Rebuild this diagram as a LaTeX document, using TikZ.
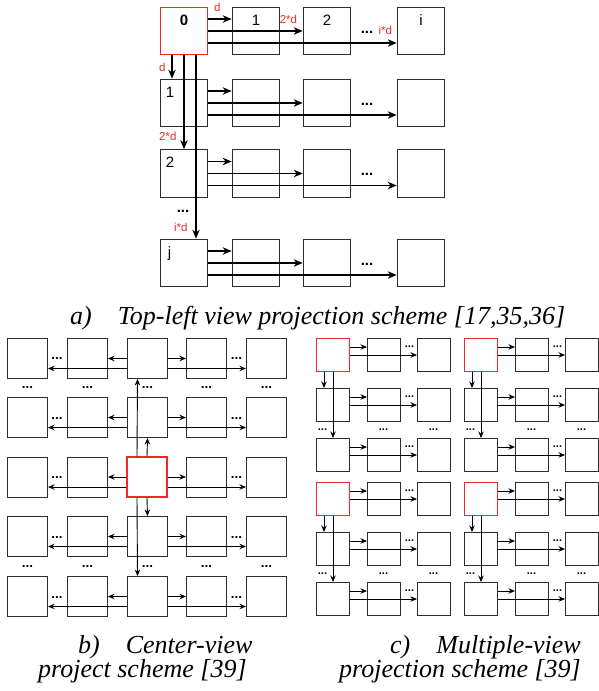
\documentclass[tikz,border=0pt]{standalone}
\usepackage{fontspec}
\setmainfont{Liberation Serif}
\setsansfont{Liberation Sans}
\usetikzlibrary{arrows.meta}

\definecolor{viewred}{RGB}{240,40,40}
\definecolor{framegray}{RGB}{45,45,45}

\begin{document}
\begin{tikzpicture}[
    x = 1pt, y = -1pt,
    view/.style = {draw = framegray,
      line width = 1.2pt,
      minimum size = {47.5pt},
      inner sep = 0},
    cview/.style = {view, line width = 1pt, minimum size = {40pt}},
    mview/.style = {view, line width = 1pt, minimum size = {33pt}},
    refview/.style = {draw = viewred},
    link/.style = {->, >={Stealth[length = 9pt, width = 7.5pt]},
      line width = 1.1pt},
    thinlink/.style = {->, >={Stealth[length = 6.5pt, width = 5.5pt]},
      line width = 0.9pt},
    numlbl/.style = {font = \sffamily\fontsize{15}{15}\selectfont,
      inner sep = 0, anchor = north},
    distlbl/.style = {text = viewred,
      font = \sffamily\fontsize{11.5}{12}\selectfont, inner sep = 0},
    ellip/.style = {font = \sffamily\bfseries\fontsize{15}{15}\selectfont,
      inner sep = 0, anchor = base},
    cellip/.style = {ellip, font = \sffamily\bfseries\fontsize{13.5}{14}\selectfont},
    mellip/.style = {ellip, font = \sffamily\bfseries\fontsize{11}{11}\selectfont},
    caption/.style = {font = \itshape\fontsize{26}{24}\selectfont,
      inner sep = 0, anchor = base west},
    ]

    \useasboundingbox (0, 0) rectangle (598, 691);

    % a) top-left view
    \node [view, refview] (t00) at (184, 31) {};
    \foreach \row/\y in {1/103, 2/173.5, 3/263}
    \node [view] (t\row0) at (184, \y) {};
    \foreach \col/\x in {1/256, 2/327, 3/421}
    \foreach \row/\y in {0/31, 1/103, 2/173.5, 3/263}
    \node [view] (t\row\col) at (\x, \y) {};

    \node [numlbl, font = \sffamily\bfseries\fontsize{15}{15}\selectfont]
    (n0) at ([yshift = -8pt] t00.north) {0};
    \node [numlbl] (n1) at ([yshift = -8pt] t01.north) {1};
    \node [numlbl] (n2) at ([yshift = -8pt] t02.north) {2};
    \node [numlbl] (ni) at ([yshift = -8pt] t03.north) {i};
    \node [numlbl, anchor = north west] (m1)
    at ([xshift = 6pt, yshift = -8pt] t10.north west) {1};
    \node [numlbl, anchor = north west] (m2)
    at ([xshift = 6pt, yshift = -8pt] t20.north west) {2};
    \node [numlbl, anchor = north west] (mj)
    at ([xshift = 8pt, yshift = -8pt] t30.north west) {j};

    \draw [link] ([yshift = 12pt] t00.east) to node
    [distlbl, pos = 0.38, anchor = south, yshift = 7pt] {d}
    ([yshift = 12pt] t01.west);
    \draw [link] (t00.east) to node
    [distlbl, pos = 1, anchor = south east, xshift = -5pt, yshift = 7pt] {2*d}
    (t02.west);
    \draw [link] ([yshift = -12pt] t00.east) to node
    [distlbl, pos = 1, anchor = south east, xshift = -4pt, yshift = 8pt] {i*d}
    ([yshift = -12pt] t03.west);

    \foreach \row in {1, 2, 3} {
      \draw [link] ([yshift = 12pt] t\row0.east) -- ([yshift = 12pt] t\row1.west);
      \draw [link] (t\row0.east) -- (t\row2.west);
      \draw [link] ([yshift = -12pt] t\row0.east) -- ([yshift = -12pt] t\row3.west);
    }

    \draw [link] ([xshift = -12pt] t00.south) to node
    [distlbl, anchor = east, xshift = -6pt] {d}
    ([xshift = -12pt] t10.north);
    \draw [link] (t00.south) to node
    [distlbl, pos = 1, anchor = south east, xshift = -7pt, yshift = 8pt] {2*d}
    (t20.north);
    \draw [link] ([xshift = 12pt] t00.south) to node
    [distlbl, pos = 1, anchor = south east, xshift = -8pt, yshift = 6pt] {i*d}
    ([xshift = 12pt] t30.north);

    \foreach \row/\y in {0/33, 1/105, 2/175.5, 3/265}
    \node [ellip] (dt\row) at (367, \y) {...};
    \node [ellip] (dtv) at (183, 212) {...};

    \node [caption] (capa) at (70, 324)
    {a)\quad Top-left view projection scheme [17,35,36]};

    % b) center view
    \foreach \col/\x in {0/27.5, 1/87.5, 3/206.5, 4/266.5}
    \foreach \row/\y in {0/358.5, 1/417.5, 2/477, 3/536.5, 4/596.5}
    \node [cview] (cv\row\col) at (\x, \y) {};
    \foreach \row/\y in {0/358.5, 1/417.5, 3/536.5, 4/596.5}
    \node [cview] (cv\row2) at (147.5, \y) {};

    \foreach \row in {0, 1, 3, 4} {
      \draw [thinlink] (cv\row2.west) -- (cv\row1.east);
      \draw [thinlink] ([yshift = -10pt] cv\row2.west) -- ([yshift = -10pt] cv\row0.east);
      \draw [thinlink] (cv\row2.east) -- (cv\row3.west);
      \draw [thinlink] ([yshift = -10pt] cv\row2.east) -- ([yshift = -10pt] cv\row4.west);
    }

    \node [cview, refview, line width = 1.4pt] (cv22) at (147, 477) {};
    \draw [thinlink] (cv22.west) -- (cv21.east);
    \draw [thinlink] ([yshift = -10pt] cv22.west) -- ([yshift = -10pt] cv20.east);
    \draw [thinlink] (cv22.east) -- (cv23.west);
    \draw [thinlink] ([yshift = -10pt] cv22.east) -- ([yshift = -10pt] cv24.west);
    \draw [thinlink] (cv22.north) -- (cv12.south);
    \draw [thinlink] ([xshift = -10pt] cv22.north) -- ([xshift = -10pt] cv02.south);
    \draw [thinlink] (cv22.south) -- (cv32.north);
    \draw [thinlink] ([xshift = -10pt] cv22.south) -- ([xshift = -10pt] cv42.north);

    \foreach \row/\y in {0/359.5, 1/419, 2/478.5, 3/538, 4/598} {
      \node [cellip] (cdl\row) at (57, \y) {...};
      \node [cellip] (cdr\row) at (236.5, \y) {...};
    }
    \foreach \col/\x in {0/27.5, 1/87.5, 2/147.5, 3/206.5, 4/266.5} {
      \node [cellip] (cdt\col) at (\x, 388) {...};
      \node [cellip] (cdb\col) at (\x, 567) {...};
    }

    \node [caption] (capb1) at (78, 653) {b)\quad Center-view};
    \node [caption] (capb2) at (38, 677) {project scheme [39]};

    % c) multiple views
    \foreach \g/\gx/\gy in {0/333/355, 1/481/355, 2/333/499, 3/481/499} {
      \foreach \col/\dx in {0/0, 1/51, 2/101}
      \foreach \row in {0, 1, 2} {
        \ifnum\row\col=0
          \node [mview, refview] (mv\g\row\col) at (\gx + \dx, \gy + 50*\row) {};
        \else
          \node [mview] (mv\g\row\col) at (\gx + \dx, \gy + 50*\row) {};
        \fi
      }
      \foreach \row in {0, 1, 2} {
        \draw [thinlink] ([yshift = 8pt] mv\g\row0.east) -- ([yshift = 8pt] mv\g\row1.west);
        \draw [thinlink] (mv\g\row0.east) -- (mv\g\row2.west);
        \node [mellip] (md\g\row) at (\gx + 76.5, \gy + 50*\row - 7.5) {...};
      }
      \draw [thinlink] ([xshift = -9pt] mv\g00.south) -- ([xshift = -9pt] mv\g10.north);
      \draw [thinlink] (mv\g00.south) -- (mv\g20.north);
      \node [mellip] (mda\g) at (\gx - 10.5, \gy + 75.5) {...};
      \node [mellip] (mdb\g) at (\gx + 50.5, \gy + 75.5) {...};
      \node [mellip] (mdc\g) at (\gx + 100.5, \gy + 75.5) {...};
    }

    \node [caption] (capc1) at (390, 653) {c)\quad Multiple-view};
    \node [caption] (capc2) at (339, 677) {projection scheme [39]};

  \end{tikzpicture}
\end{document}
